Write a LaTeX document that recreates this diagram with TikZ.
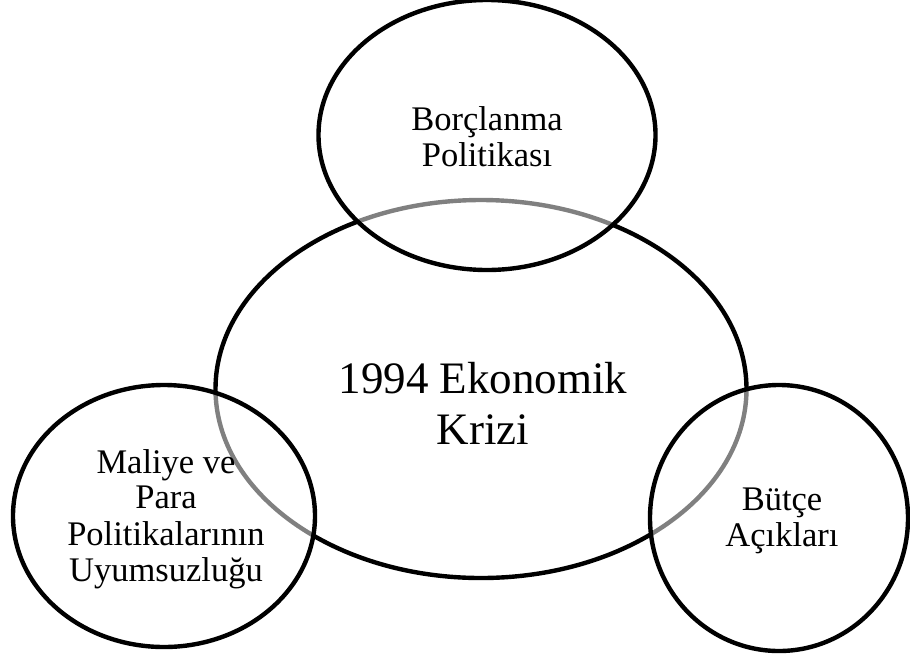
\documentclass[tikz,border=0pt]{standalone}
\usepackage{fontspec}
\setmainfont{Liberation Serif}
\usetikzlibrary{shapes.geometric}
\begin{document}
\begin{tikzpicture}[x=1pt,y=-1pt,
  ring/.style={ellipse, draw=black, line width=4.4pt, inner sep=0pt, outer sep=0pt},
  over/.style={ring, fill=white, fill opacity=0.5, draw opacity=1},
  small/.style={anchor=base, inner sep=0pt, font=\fontsize{34.5}{36}\selectfont},
  big/.style={anchor=base, inner sep=0pt, font=\fontsize{45}{51}\selectfont}]
  \useasboundingbox (0,0) rectangle (910,657);
  % central crisis ellipse
  \node[ring, minimum width=531pt, minimum height=378pt] (crisis) at (481,389) {};
  % the three cause ellipses, half-transparent over the central one
  \node[over, minimum width=337pt, minimum height=270pt] (debt) at (487,135) {};
  \node[over, minimum width=302pt, minimum height=262pt] (policy) at (164,516) {};
  \node[over, minimum width=258pt, minimum height=266pt] (budget) at (779,518) {};
  % labels
  \node[big] (crisisA) at (483,393) {1994 Ekonomik};
  \node[big] (crisisB) at (483,444) {Krizi};
  \node[small] (debtA) at (487,130) {Borçlanma};
  \node[small] (debtB) at (487,166) {Politikası};
  \node[small] (policyA) at (166,473) {Maliye ve};
  \node[small] (policyB) at (166,508) {Para};
  \node[small] (policyC) at (166,545) {Politikalarının};
  \node[small] (policyD) at (166,581) {Uyumsuzluğu};
  \node[small] (budgetA) at (782,510) {Bütçe};
  \node[small] (budgetB) at (782,546) {Açıkları};
\end{tikzpicture}
\end{document}
